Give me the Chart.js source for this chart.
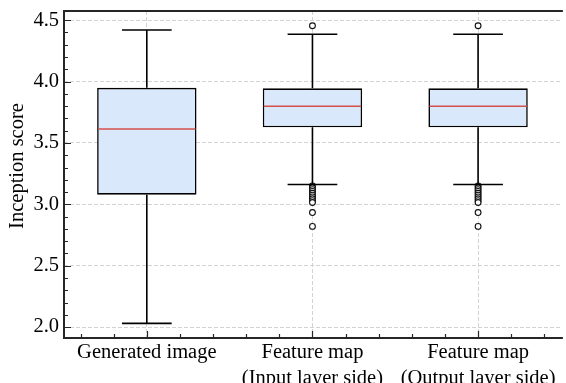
<!DOCTYPE html>
<html>
<head>
<meta charset="utf-8">
<script src="https://cdn.jsdelivr.net/npm/chart.js@4.4.0/dist/chart.umd.min.js"></script>
<style>
html, body { margin: 0; padding: 0; background: #fff; overflow: hidden; }
#wrap { width: 566px; height: 383px; }
</style>
</head>
<body>
<div id="wrap"><canvas id="chart"></canvas></div>
<script>
const categories = ['Generated image', 'Feature map (Input layer side)', 'Feature map (Output layer side)'];
const tickLines = [['Generated image'], ['Feature map', '(Input layer side)'], ['Feature map', '(Output layer side)']];
const whiskerLow = [2.03, 3.162, 3.162];
const q1 = [3.079, 3.627, 3.627];
const median = [3.613, 3.80, 3.80];
const q3 = [3.949, 3.945, 3.945];
const whiskerHigh = [4.42, 4.386, 4.386];
const outliersGen = [];
const outliersIn = [4.455, 3.15, 3.135, 3.12, 3.105, 3.09, 3.075, 3.06, 3.045, 3.03, 3.015, 2.933, 2.82];
const outliersOut = [4.455, 3.15, 3.135, 3.12, 3.105, 3.09, 3.075, 3.06, 3.045, 3.03, 3.015, 2.933, 2.82];
const yTicks = [2.0, 2.5, 3.0, 3.5, 4.0, 4.5];

const FONT = 'Liberation Serif';
const outlierPoints = [];
[outliersGen, outliersIn, outliersOut].forEach((list, i) => {
    list.forEach(v => outlierPoints.push({ x: categories[i], y: v }));
});

// Bigotes, mediana, marco y marcas hacia dentro
const boxExtras = {
    id: 'boxExtras',
    afterDatasetsDraw(chart) {
        const ctx = chart.ctx;
        const y = chart.scales.y;
        const meta = chart.getDatasetMeta(0);
        ctx.save();
        meta.data.forEach((bar, i) => {
            const cx = bar.x;
            const half = bar.width / 2;
            ctx.strokeStyle = '#000';
            ctx.lineWidth = 1.6;
            ctx.beginPath();
            ctx.moveTo(cx, y.getPixelForValue(q3[i]));
            ctx.lineTo(cx, y.getPixelForValue(whiskerHigh[i]));
            ctx.moveTo(cx, y.getPixelForValue(q1[i]));
            ctx.lineTo(cx, y.getPixelForValue(whiskerLow[i]));
            ctx.moveTo(cx - half / 2, y.getPixelForValue(whiskerHigh[i]));
            ctx.lineTo(cx + half / 2, y.getPixelForValue(whiskerHigh[i]));
            ctx.moveTo(cx - half / 2, y.getPixelForValue(whiskerLow[i]));
            ctx.lineTo(cx + half / 2, y.getPixelForValue(whiskerLow[i]));
            ctx.stroke();
            ctx.strokeStyle = '#d4504a';
            ctx.lineWidth = 1.5;
            ctx.beginPath();
            ctx.moveTo(cx - half + 1, y.getPixelForValue(median[i]));
            ctx.lineTo(cx + half - 1, y.getPixelForValue(median[i]));
            ctx.stroke();
        });
        ctx.restore();
    },
    afterDraw(chart) {
        const ctx = chart.ctx;
        const a = chart.chartArea;
        const x = chart.scales.x;
        const y = chart.scales.y;
        ctx.save();
        ctx.strokeStyle = '#262626';
        ctx.lineWidth = 1.2;
        ctx.beginPath();
        for (let v = 2.0; v <= 4.5001; v += 0.1) {
            const py = Math.round(y.getPixelForValue(v)) + 0.5;
            const major = Math.abs(v * 2 - Math.round(v * 2)) < 0.01;
            ctx.moveTo(a.left, py);
            ctx.lineTo(a.left + (major ? 7 : 4), py);
        }
        for (let v = -0.4; v <= 2.4001; v += 0.2) {
            const px = Math.round(x.getPixelForValue(v)) + 0.5;
            const major = Math.abs(v - Math.round(v)) < 0.01;
            ctx.moveTo(px, a.bottom);
            ctx.lineTo(px, a.bottom - (major ? 7 : 4));
        }
        ctx.stroke();
        ctx.lineWidth = 2;
        ctx.beginPath();
        ctx.moveTo(a.right + 2, a.top);
        ctx.lineTo(a.left, a.top);
        ctx.lineTo(a.left, a.bottom);
        ctx.lineTo(a.right + 2, a.bottom);
        ctx.stroke();
        // título del eje y
        ctx.fillStyle = '#000';
        ctx.font = '20.5px "' + FONT + '"';
        ctx.textAlign = 'center';
        ctx.textBaseline = 'middle';
        ctx.translate(18, 166);
        ctx.rotate(-Math.PI / 2);
        ctx.fillText('Inception score', 0, 0);
        ctx.restore();
    }
};

new Chart(document.getElementById('chart'), {
    type: 'bar',
    data: {
        labels: categories,
        datasets: [
            {
                type: 'bar',
                data: q1.map((v, i) => [v, q3[i]]),
                backgroundColor: '#dae8fc',
                borderColor: '#000',
                borderWidth: 1.6,
                borderSkipped: false,
                barPercentage: 0.6,
                categoryPercentage: 1
            },
            {
                type: 'line',
                data: outlierPoints,
                showLine: false,
                pointStyle: 'circle',
                pointRadius: 2.9,
                pointBorderWidth: 1.1,
                pointBackgroundColor: '#fff',
                pointBorderColor: '#111'
            }
        ]
    },
    options: {
        responsive: true,
        maintainAspectRatio: false,
        animation: false,
        layout: { padding: { top: 11, left: 0, right: 0, bottom: 0 } },
        plugins: { legend: { display: false }, tooltip: { enabled: false } },
        scales: {
            x: {
                offset: true,
                grid: { offset: false, color: '#d3d3d3', lineWidth: 1, drawTicks: false },
                border: { display: false, dash: [4, 2] },
                ticks: {
                    color: '#000', padding: 1, font: { family: FONT, size: 20.5, lineHeight: 1.3 },
                    maxRotation: 0, autoSkip: false,
                    callback: (v, i) => tickLines[i]
                },
                afterFit(scale) {
                    scale.height = 45;
                    scale.paddingLeft = 0;
                    scale.paddingRight = 0;
                }
            },
            y: {
                min: 1.911,
                max: 4.575,
                grid: { color: '#d3d3d3', lineWidth: 1, drawTicks: false },
                border: { display: false, dash: [4, 2] },
                afterBuildTicks(scale) { scale.ticks = yTicks.map(v => ({ value: v })); },
                ticks: {
                    color: '#000',
                    padding: 5,
                    font: { family: FONT, size: 20.5 },
                    callback: v => v.toFixed(1)
                },
                afterFit(scale) {
                    scale.width = 64;
                    scale.paddingTop = 0;
                    scale.paddingBottom = 0;
                }
            }
        }
    },
    plugins: [boxExtras]
});
</script>
</body>
</html>
